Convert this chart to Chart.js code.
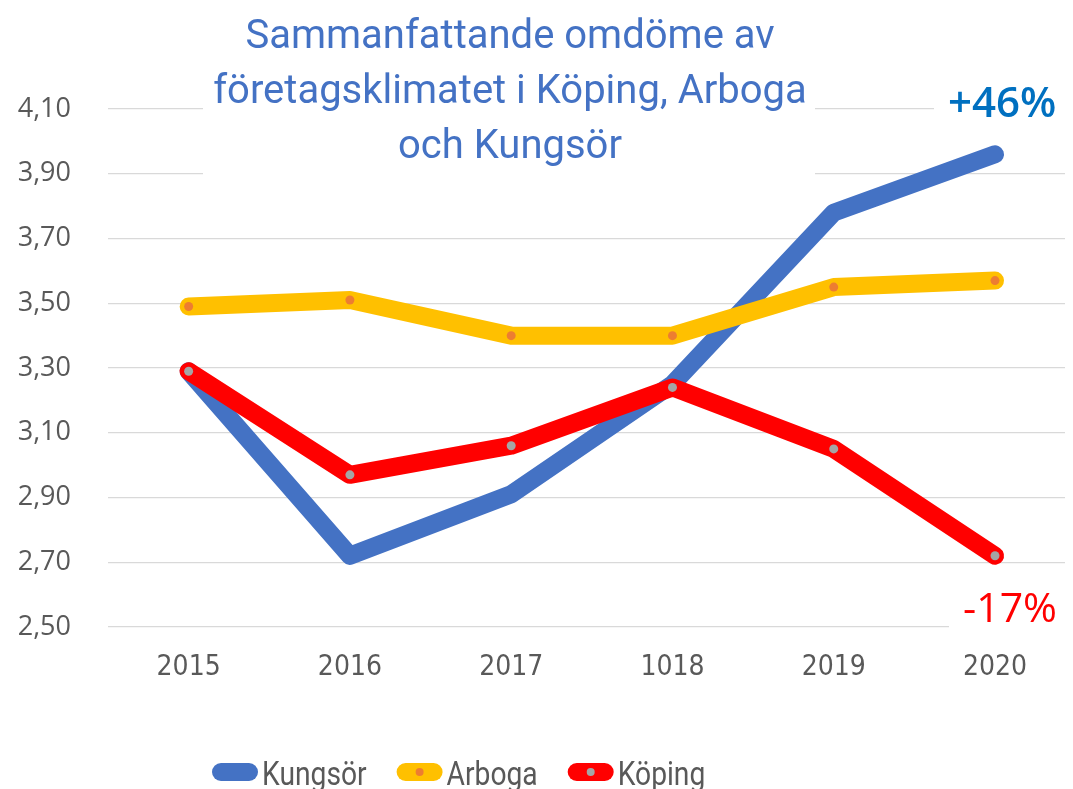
<!DOCTYPE html>
<html>
<head>
<meta charset="utf-8">
<script src="https://cdn.jsdelivr.net/npm/chart.js@4.4.1/dist/chart.umd.min.js"></script>
<style>
  html, body { margin: 0; padding: 0; background: #ffffff; overflow: hidden; }
  #wrap { width: 1073px; height: 789px; }
</style>
</head>
<body>
<div id="wrap"><canvas id="c" width="1073" height="789"></canvas></div>
<script>
// ---- data ----
const categories = ['2015', '2016', '2017', '1018', '2019', '2020'];
const kungsor = [3.29, 2.72, 2.91, 3.25, 3.78, 3.96];
const arboga  = [3.49, 3.51, 3.40, 3.40, 3.55, 3.57];
const koping  = [3.29, 2.97, 3.06, 3.24, 3.05, 2.72];
const yTicks  = [2.50, 2.70, 2.90, 3.10, 3.30, 3.50, 3.70, 3.90, 4.10];
const seriesNames = ['Kungsör', 'Arboga', 'Köping'];
const titleLines = ['Sammanfattande omdöme av', 'företagsklimatet i Köping, Arboga', 'och Kungsör'];
const noteUp = '+46%';
const noteDown = '-17%';

// ---- styles ----
const lineColors  = ['#4472C4', '#FFC000', '#FF0000'];
const pointColors = ['#4472C4', '#ED7D31', '#A5A5A5'];
const pointRadii  = [0, 4.5, 4.5];
const textGrey = '#595959';
const condensed = '"DejaVu Sans Condensed", "Roboto", sans-serif';

function pts(arr) { return arr.map((v, i) => ({ x: i, y: v })); }

const allSeries = [kungsor, arboga, koping];
const datasets = allSeries.map((arr, i) => ({
  label: seriesNames[i],
  data: pts(arr),
  borderColor: lineColors[i],
  backgroundColor: pointColors[i],
  pointBackgroundColor: pointColors[i],
  pointBorderWidth: 0,
  pointRadius: pointRadii[i],
  pointHoverRadius: pointRadii[i],
  borderWidth: 18,
  borderCapStyle: 'round',
  borderJoinStyle: 'round',
  tension: 0,
  fill: false,
  order: 3 - i
}));

const overlayPlugin = {
  id: 'overlay',
  beforeDatasetsDraw(chart) {
    const ctx = chart.ctx;
    ctx.save();
    ctx.fillStyle = '#ffffff';
    ctx.fillRect(203, 0, 612, 181);
    ctx.fillRect(934, 72, 139, 54);
    ctx.fillRect(949, 578, 124, 60);
    ctx.fillStyle = '#4472C4';
    ctx.font = '400 40px Roboto, sans-serif';
    ctx.textAlign = 'center';
    ctx.textBaseline = 'alphabetic';
    const baselines = [48, 103, 158];
    titleLines.forEach((t, i) => ctx.fillText(t, 510, baselines[i]));
    ctx.textAlign = 'left';
    ctx.fillStyle = '#0070C0';
    ctx.font = '600 42px "Open Sans", sans-serif';
    ctx.fillText(noteUp, 948, 117);
    ctx.fillStyle = '#FF0000';
    ctx.font = '400 41px "Open Sans", sans-serif';
    ctx.fillText(noteDown, 963, 622);
    ctx.restore();
  },
  afterDraw(chart) {
    const ctx = chart.ctx;
    ctx.save();
    ctx.font = '34px Roboto, sans-serif';
    ctx.textBaseline = 'alphabetic';
    ctx.textAlign = 'left';
    const sx = 0.83;
    let x = 221;
    const cy = 772;
    seriesNames.forEach((name, i) => {
      ctx.strokeStyle = lineColors[i];
      ctx.lineWidth = 18;
      ctx.lineCap = 'round';
      ctx.beginPath();
      ctx.moveTo(x, cy);
      ctx.lineTo(x + 28, cy);
      ctx.stroke();
      if (pointRadii[i] > 0) {
        ctx.fillStyle = pointColors[i];
        ctx.beginPath();
        ctx.arc(x + 14, cy, 4, 0, Math.PI * 2);
        ctx.fill();
      }
      ctx.fillStyle = textGrey;
      const tx = x + 41;
      ctx.save();
      ctx.translate(tx, 785);
      ctx.scale(sx, 1);
      ctx.fillText(name, 0, 0);
      ctx.restore();
      x = tx + ctx.measureText(name).width * sx + 39;
    });
    ctx.restore();
  }
};

new Chart(document.getElementById('c'), {
  type: 'line',
  data: { datasets },
  options: {
    responsive: false,
    animation: false,
    devicePixelRatio: 1,
    layout: { padding: { top: 109, right: 8, left: 0, bottom: 0 } },
    plugins: { legend: { display: false }, title: { display: false }, tooltip: { enabled: false } },
    scales: {
      x: {
        type: 'linear',
        min: -0.5,
        max: 5.434,
        afterBuildTicks(scale) { scale.ticks = categories.map((c, i) => ({ value: i })); },
        afterFit(scale) { scale.height = 162; },
        grid: { display: false, drawTicks: false },
        border: { display: false },
        ticks: {
          callback: (v) => categories[v],
          color: textGrey,
          font: { family: condensed, size: 28 },
          padding: 24,
          maxRotation: 0,
          autoSkip: false
        }
      },
      y: {
        type: 'linear',
        min: 2.5,
        max: 4.1,
        afterBuildTicks(scale) { scale.ticks = yTicks.map(v => ({ value: v })); },
        afterFit(scale) { scale.width = 108; },
        grid: { color: '#D9D9D9', lineWidth: 1.3, drawTicks: false },
        border: { display: false },
        ticks: {
          callback: (v) => v.toFixed(2).replace('.', ','),
          color: textGrey,
          font: { family: '"Open Sans", sans-serif', size: 27 },
          padding: 37
        }
      }
    }
  },
  plugins: [overlayPlugin]
});
</script>
</body>
</html>
